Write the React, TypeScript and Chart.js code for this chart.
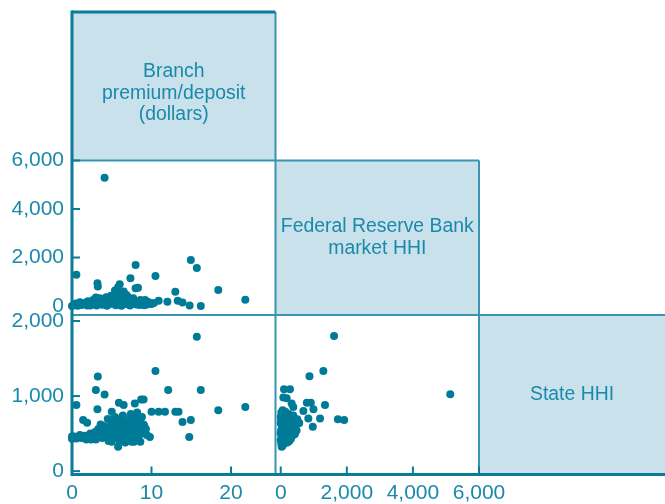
import React, { useEffect, useRef } from "react";
import { Chart, registerables } from "chart.js";

Chart.register(...registerables);

// ---- tick values ----
const PREMIUM_TICKS = [0, 10, 20];
const FRB_TICKS = [0, 2000, 4000, 6000];
const STATE_TICKS = [0, 1000, 2000];

// ---- variable names (diagonal panels) ----
const LABEL_PREMIUM = ["Branch", "premium/deposit", "(dollars)"];
const LABEL_FRB = ["Federal Reserve Bank", "market HHI"];
const LABEL_STATE = ["State HHI"];

// ---- panel: Federal Reserve Bank market HHI (y) vs branch premium/deposit (x) ----
const frbVsPremium: [number, number][] = [
  [4.1, 5290], [0.55, 1290], [3.2, 935], [3.25, 800], [8.0, 1690], [7.35, 1140],
  [6.0, 895], [5.8, 770], [8.0, 730], [8.3, 755], [10.5, 1240], [14.95, 1900],
  [15.7, 1570], [13.0, 590], [18.4, 660], [21.8, 260], [10.9, 220], [12.0, 180],
  [13.3, 220], [13.9, 140], [14.8, 20], [16.2, 0], [10.0, 80],
  [0.0, 0], [0.3, 40], [0.7, 10], [1.2, 40], [1.5, 90], [1.9, 20], [2.2, 120],
  [2.5, 60], [2.65, 250], [2.9, 150], [3.1, 20], [3.3, 90], [3.5, 316], [3.6, 190],
  [3.8, 50], [4.1, 276], [4.2, 130], [4.4, 10], [4.6, 210], [4.8, 80], [5.0, 300],
  [5.2, 383], [5.3, 150], [5.5, 30], [5.6, 523], [5.7, 250], [5.9, 100], [6.0, 454],
  [6.1, 330], [6.2, 10], [6.4, 190], [6.6, 70], [6.85, 454], [6.9, 280], [7.1, 140],
  [7.3, 20], [7.5, 220], [7.7, 316], [7.8, 90], [8.0, 160], [8.3, 177], [8.5, 40],
  [8.8, 100], [9.1, 30], [9.4, 60], [9.8, 110], [2.0, 200], [4.9, 420], [6.5, 600],
  [5.4, 640], [3.0, 350], [7.0, 380], [4.3, 360], [1.0, 150], [0.5, 100], [8.6, 250],
  [0.9, 60], [1.7, 130], [2.3, 20], [2.8, 80], [3.4, 200], [3.9, 150], [4.5, 120],
  [4.7, 300], [5.1, 200], [5.5, 180], [5.8, 350], [6.3, 120], [6.7, 250], [7.2, 60],
  [7.6, 150], [8.1, 60], [8.9, 200], [9.6, 160], [9.2, 250], [10.3, 120],
];

// ---- panel: State HHI (y) vs branch premium/deposit (x) ----
const stateVsPremium: [number, number][] = [
  [15.7, 1790], [10.5, 1335], [3.25, 1260], [3.0, 1080], [4.1, 1020], [12.1, 1080],
  [16.2, 1080], [0.55, 880], [3.2, 825], [18.4, 810], [21.8, 855], [5.9, 910],
  [6.5, 880], [7.9, 900], [8.7, 955], [9.0, 955], [10.0, 790], [10.9, 790],
  [11.7, 790], [13.0, 790], [13.4, 790], [13.9, 655], [14.95, 680], [14.75, 455],
  [9.8, 455], [1.4, 680], [1.9, 645], [4.5, 695], [5.0, 790], [5.7, 690], [5.8, 325],
  [8.95, 590], [8.5, 680],
  [0.0, 430], [0.0, 460], [0.55, 435], [1.2, 440], [1.6, 470], [2.0, 450], [2.3, 500],
  [2.6, 470], [2.9, 520], [3.1, 460], [3.3, 560], [3.5, 500], [3.8, 440], [4.0, 600],
  [4.2, 520], [4.4, 470], [4.6, 400], [4.8, 560], [5.0, 390], [5.1, 480], [5.3, 620],
  [5.5, 440], [5.6, 540], [5.8, 600], [6.0, 400], [6.1, 470], [6.2, 650], [6.3, 540],
  [6.5, 420], [6.6, 600], [6.7, 380], [6.9, 500], [7.0, 660], [7.2, 440], [7.3, 560],
  [7.5, 390], [7.6, 620], [7.7, 480], [7.9, 700], [8.0, 420], [8.1, 550], [8.3, 640],
  [8.4, 470], [8.6, 390], [8.8, 720], [8.9, 510], [9.1, 600], [9.3, 560], [2.4, 420],
  [3.6, 620], [4.9, 660], [5.4, 720], [6.4, 740], [7.4, 760], [3.0, 420], [1.0, 480],
  [5.9, 520], [6.8, 430], [7.8, 390], [8.2, 780],
  [1.8, 420], [2.7, 440], [3.4, 460], [4.3, 580], [4.7, 450], [5.2, 550], [5.7, 470],
  [6.2, 580], [6.6, 520], [7.1, 600], [7.7, 540], [8.2, 450], [8.7, 500], [9.0, 620],
  [9.4, 480], [0.3, 460], [3.9, 500], [6.0, 690], [7.3, 700],
];

// ---- panel: State HHI (y) vs Federal Reserve Bank market HHI (x) ----
const stateVsFrb: [number, number][] = [
  [1615, 1800], [1290, 1335], [870, 1265], [100, 1090], [280, 1090], [5130, 1025],
  [80, 980], [180, 970], [330, 900], [380, 855], [790, 910], [910, 910], [990, 825],
  [1340, 880], [685, 800], [1190, 700], [1730, 690], [1920, 680], [970, 590],
  [835, 700], [530, 635], [430, 500], [30, 325], [0, 415],
  [20, 360], [50, 420], [80, 390], [30, 460], [120, 450], [60, 500], [150, 410],
  [10, 540], [90, 560], [180, 480], [40, 600], [130, 620], [200, 550], [250, 440],
  [70, 660], [160, 700], [220, 620], [100, 740], [280, 520], [300, 600], [350, 470],
  [20, 780], [60, 810], [140, 790], [240, 760], [330, 680], [400, 560], [450, 620],
  [500, 690], [560, 640], [380, 740], [110, 370], [0, 640], [45, 700], [200, 380],
  [260, 400], [310, 430], [420, 490], [480, 540], [15, 680], [75, 720], [170, 560],
  [90, 480], [35, 520], [210, 690], [270, 650], [60, 340], [130, 530], [0, 500], [0, 720],
  [25, 400], [55, 470], [95, 430], [140, 470], [185, 430], [230, 500], [40, 560],
  [110, 580], [175, 620], [240, 590], [290, 560], [20, 620], [80, 620], [130, 680],
  [190, 660], [50, 750], [120, 720], [100, 520], [160, 500], [340, 560], [60, 580],
];

const COLORS = {
  point: "#007b97",
  text: "#1a89aa",
  axis: "#0c7b9a",
  line: "#3894b0",
  fill: "#c9e1eb",
};

const FONT = "'Liberation Sans', Arial, Helvetica, sans-serif";

export default function App() {
  const ref = useRef<HTMLCanvasElement>(null);

  useEffect(() => {
    if (!ref.current) return;
    const fmt = (v: any) => Number(v).toLocaleString("en-US");
    const fixY = (s: any) => {
      s.width = 72;
      s.paddingTop = 0; s.paddingBottom = 0; s.paddingLeft = 0; s.paddingRight = 0;
    };
    const fixX = (s: any) => {
      s.height = 29.5;
      s.paddingTop = 0; s.paddingBottom = 0; s.paddingLeft = 0; s.paddingRight = 0;
    };
    const setTicks = (vals: number[]) => (s: any) => {
      s.ticks = vals.map((v) => ({ value: v }));
    };
    const tickOpts = (padding: number) => ({
      color: COLORS.text,
      font: { family: FONT, size: 21 },
      padding,
      autoSkip: false,
      maxRotation: 0,
      callback: fmt,
    });
    const noGrid = { display: false, drawTicks: false };
    const noBorder = { display: false };

    const toXY = (arr: [number, number][]) => arr.map(([x, y]) => ({ x, y }));
    const pointStyle = {
      pointRadius: 4,
      pointHoverRadius: 4,
      pointBackgroundColor: COLORS.point,
      pointBorderWidth: 0,
      borderWidth: 0,
      showLine: false,
      clip: false as any,
    };

    const matrixPlugin = {
      id: "matrixFrame",
      beforeDatasetsDraw(chart: any) {
        const ctx = chart.ctx;
        const s = chart.scales;
        const L = s.xA.left, M = s.xB.left, R = s.xC.left, E = s.xC.right;
        const T = s.yTop.top, U = s.yMid.top, V = s.yBot.top, B = s.yBot.bottom;
        ctx.save();
        ctx.fillStyle = COLORS.fill;
        ctx.fillRect(L, T, M - L, U - T);
        ctx.fillRect(M, U, R - M, V - U);
        ctx.fillRect(R, V, E - R, B - V);

        const seg = (x1: number, y1: number, x2: number, y2: number, w: number, c: string) => {
          ctx.beginPath();
          ctx.lineWidth = w;
          ctx.strokeStyle = c;
          ctx.moveTo(x1, y1);
          ctx.lineTo(x2, y2);
          ctx.stroke();
        };
        // inner dividers
        seg(L, U, R, U, 2, COLORS.line);
        seg(L, V, E, V, 2, COLORS.line);
        seg(M, T, M, B, 2, COLORS.line);
        seg(R, U, R, B, 2, COLORS.line);
        // outer axes
        seg(L, T - 1.5, L, B + 1.5, 3, COLORS.axis);
        seg(L, B, E, B, 3, COLORS.axis);
        seg(L, T, M, T, 3, COLORS.axis);
        // inward tick marks
        const tl = 8;
        PREMIUM_TICKS.forEach((v) => {
          const x = s.xA.getPixelForValue(v);
          seg(x, B, x, B - tl, 2, COLORS.axis);
        });
        FRB_TICKS.forEach((v) => {
          const x = s.xB.getPixelForValue(v);
          seg(x, B, x, B - tl, 2, COLORS.axis);
        });
        FRB_TICKS.forEach((v) => {
          const y = s.yMid.getPixelForValue(v);
          seg(L, y, L + tl, y, 2, COLORS.axis);
        });
        STATE_TICKS.forEach((v) => {
          const y = s.yBot.getPixelForValue(v);
          seg(L, y, L + tl, y, 2, COLORS.axis);
        });

        // variable names
        ctx.fillStyle = COLORS.text;
        ctx.font = `19.4px ${FONT}`;
        ctx.textAlign = "center";
        ctx.textBaseline = "middle";
        const lh = 21.5;
        const drawLines = (lines: string[], cx: number, cy: number) => {
          const start = cy - ((lines.length - 1) * lh) / 2;
          lines.forEach((t, i) => ctx.fillText(t, cx, start + i * lh));
        };
        drawLines(LABEL_PREMIUM, (L + M) / 2, (T + U) / 2 + 7);
        drawLines(LABEL_FRB, (M + R) / 2, (U + V) / 2);
        drawLines(LABEL_STATE, (R + E) / 2, (V + B) / 2);
        ctx.restore();
      },
    };

    const chart = new Chart(ref.current, {
      type: "scatter",
      data: {
        datasets: [
          { data: toXY(frbVsPremium), xAxisID: "xA", yAxisID: "yMid", ...pointStyle },
          { data: toXY(stateVsPremium), xAxisID: "xA", yAxisID: "yBot", ...pointStyle },
          { data: toXY(stateVsFrb), xAxisID: "xB", yAxisID: "yBot", ...pointStyle },
        ] as any,
      },
      options: {
        animation: false,
        responsive: true,
        maintainAspectRatio: false,
        events: [],
        layout: { autoPadding: false, padding: { top: 12, left: 0, right: 0, bottom: 0 } },
        plugins: { legend: { display: false }, tooltip: { enabled: false } },
        scales: {
          yTop: {
            type: "linear", position: "left", stack: "rows", stackWeight: 148.5, weight: 3,
            min: 0, max: 1, ticks: { display: false }, grid: noGrid, border: noBorder, afterFit: fixY,
          },
          yMid: {
            type: "linear", position: "left", stack: "rows", stackWeight: 154.5, weight: 2,
            min: -371, max: 6000, afterBuildTicks: setTicks(FRB_TICKS),
            ticks: tickOpts(8), grid: noGrid, border: noBorder, afterFit: fixY,
          },
          yBot: {
            type: "linear", position: "left", stack: "rows", stackWeight: 159.5, weight: 1,
            min: -45, max: 2080, afterBuildTicks: setTicks(STATE_TICKS),
            ticks: tickOpts(8), grid: noGrid, border: noBorder, afterFit: fixY,
          },
          xA: {
            type: "linear", position: "bottom", stack: "cols", stackWeight: 203.5, weight: 1,
            min: 0, max: 25.6, afterBuildTicks: setTicks(PREMIUM_TICKS),
            ticks: tickOpts(6), grid: noGrid, border: noBorder, afterFit: fixX,
          },
          xB: {
            type: "linear", position: "bottom", stack: "cols", stackWeight: 203.5, weight: 2,
            min: -158, max: 6000, afterBuildTicks: setTicks(FRB_TICKS),
            ticks: tickOpts(6), grid: noGrid, border: noBorder, afterFit: fixX,
          },
          xC: {
            type: "linear", position: "bottom", stack: "cols", stackWeight: 186, weight: 3,
            min: 0, max: 1, ticks: { display: false }, grid: noGrid, border: noBorder, afterFit: fixX,
          },
        } as any,
      },
      plugins: [matrixPlugin],
    });
    return () => chart.destroy();
  }, []);

  return (
    <div style={{ position: "fixed", left: 0, top: 0, width: 665, height: 504, overflow: "hidden" }}>
      <canvas ref={ref} style={{ display: "block" }} />
    </div>
  );
}
